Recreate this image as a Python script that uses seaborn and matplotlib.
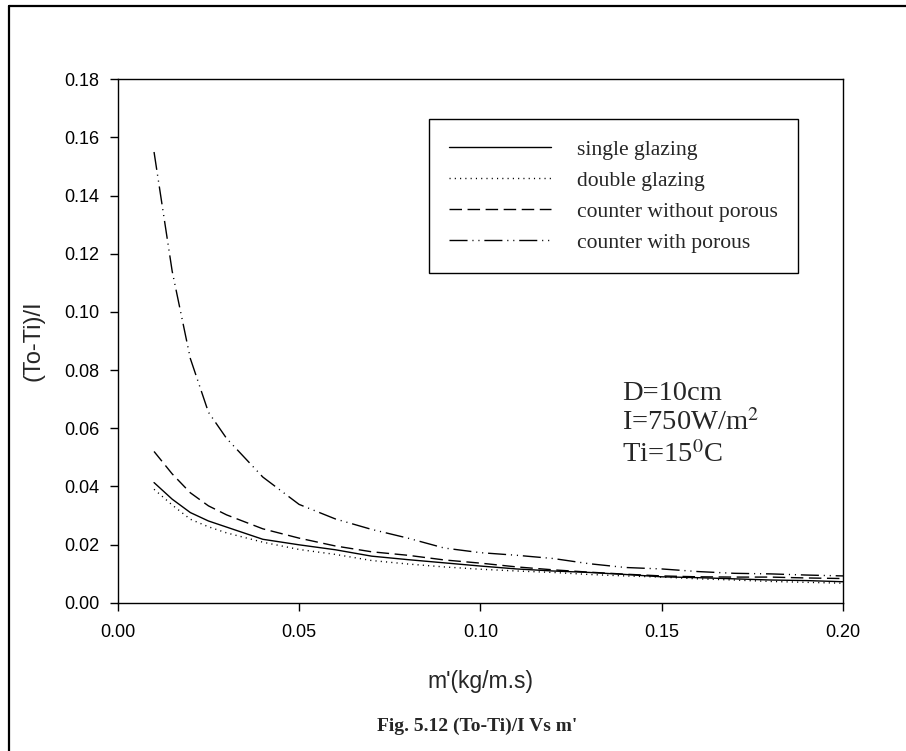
import matplotlib
matplotlib.use("Agg")
import matplotlib.pyplot as plt
from matplotlib.lines import Line2D
import seaborn as sns
import pandas as pd

# mass flow rate per unit width, kg/(m.s)
m_flow = [0.01, 0.015, 0.02, 0.025, 0.03, 0.04, 0.05, 0.06, 0.07, 0.08, 0.09,
          0.10, 0.11, 0.12, 0.13, 0.14, 0.15, 0.16, 0.17, 0.18, 0.19, 0.20]

# (To-Ti)/I for each collector configuration
single_glazing = [0.0413, 0.0356, 0.0310, 0.0281, 0.0260, 0.0218, 0.0199, 0.0182,
                  0.0160, 0.0148, 0.0137, 0.0126, 0.0116, 0.0109, 0.0104, 0.0097,
                  0.0089, 0.0086, 0.0082, 0.0078, 0.0076, 0.0072]
double_glazing = [0.0390, 0.0336, 0.0287, 0.0261, 0.0240, 0.0208, 0.0183, 0.0166,
                  0.0145, 0.0133, 0.0123, 0.0115, 0.0109, 0.0104, 0.0097, 0.0092,
                  0.0088, 0.0082, 0.0078, 0.0073, 0.0070, 0.0067]
counter_without_porous = [0.0520, 0.0443, 0.0378, 0.0333, 0.0302, 0.0254, 0.0222,
                          0.0195, 0.0175, 0.0163, 0.0147, 0.0136, 0.0123, 0.0113,
                          0.0105, 0.0098, 0.0092, 0.0089, 0.0088, 0.0088, 0.0085,
                          0.0083]
counter_with_porous = [0.1550, 0.1140, 0.0840, 0.0655, 0.0565, 0.0432, 0.0338,
                       0.0288, 0.0252, 0.0222, 0.0188, 0.0172, 0.0163, 0.0152,
                       0.0134, 0.0121, 0.0116, 0.0107, 0.0101, 0.0099, 0.0095,
                       0.0092]

series_names = ["single glazing", "double glazing",
                "counter without porous", "counter with porous"]
x_ticks = [0.00, 0.05, 0.10, 0.15, 0.20]
y_ticks = [0.00, 0.02, 0.04, 0.06, 0.08, 0.10, 0.12, 0.14, 0.16, 0.18]
conditions = ["D=10cm", "I=750W/m$^2$", "Ti=15$^0$C"]

frames = []
for name, vals in zip(series_names, [single_glazing, double_glazing,
                                     counter_without_porous, counter_with_porous]):
    frames.append(pd.DataFrame({"m": m_flow, "ratio": vals, "config": name}))
df = pd.concat(frames, ignore_index=True)

sns.set_style("ticks")
plt.rcParams["font.family"] = ["Liberation Sans", "DejaVu Sans"]
plt.rcParams["mathtext.fontset"] = "stix"

line_styles = {
    "single glazing": "-",
    "double glazing": (0, (0.8, 3.0)),
    "counter without porous": (0, (9.0, 4.0)),
    "counter with porous": (0, (13.0, 3.5, 0.8, 3.5, 0.8, 3.5)),
}

fig = plt.figure(figsize=(9.06, 7.51), dpi=100)
ax = fig.add_axes([0.130, 0.1975, 0.8005, 0.6969])

for name in series_names:
    sub = df[df["config"] == name]
    sns.lineplot(data=sub, x="m", y="ratio", ax=ax, color="black", lw=1.0,
                 linestyle=line_styles[name], label=name, estimator=None,
                 sort=False)

ax.set_xlim(0, 0.20)
ax.set_ylim(0, 0.18)
ax.set_xticks(x_ticks)
ax.set_xticklabels([f"{t:.2f}" for t in x_ticks])
ax.set_yticks(y_ticks)
ax.set_yticklabels([f"{t:.2f}" for t in y_ticks])
ax.tick_params(axis="both", direction="out", length=5.5, width=1.0,
               labelsize=13, colors="black")
ax.tick_params(axis="y", pad=8)
ax.tick_params(axis="x", pad=10)
for side in ["top", "right", "bottom", "left"]:
    ax.spines[side].set_visible(True)
    ax.spines[side].set_linewidth(1.0)
    ax.spines[side].set_color("black")

ax.set_xlabel("m'(kg/m.s)", fontsize=16.5, labelpad=21)
ax.set_ylabel("(To-Ti)/I", fontsize=17, labelpad=14)

leg = ax.legend(loc="upper left", bbox_to_anchor=(0.4285, 0.924),
                borderaxespad=0, frameon=True, fancybox=False, shadow=False,
                edgecolor="black", framealpha=1, handlelength=4.7,
                handletextpad=1.2, labelspacing=0.5, borderpad=0.95,
                prop={"family": "Liberation Serif", "size": 15.6})
leg.get_frame().set_linewidth(1.0)

for text, y_base in zip(conditions, [0.3863, 0.3290, 0.2679]):
    ax.text(0.695, y_base, text, transform=ax.transAxes, fontsize=20.5,
            family="Liberation Serif", va="baseline", ha="left")

fig.text(0.527, 0.033, "Fig. 5.12 (To-Ti)/I Vs m'", ha="center", va="center",
         fontsize=14, fontweight="bold", family="Liberation Serif")

# page frame: left and top edges
fig.add_artist(Line2D([0.0099, 0.0099], [0.0, 0.992], transform=fig.transFigure,
                      color="black", lw=1.6))
fig.add_artist(Line2D([0.0099, 1.0], [0.992, 0.992], transform=fig.transFigure,
                      color="black", lw=1.6))

fig.savefig("out.png", dpi=100, facecolor="white")
